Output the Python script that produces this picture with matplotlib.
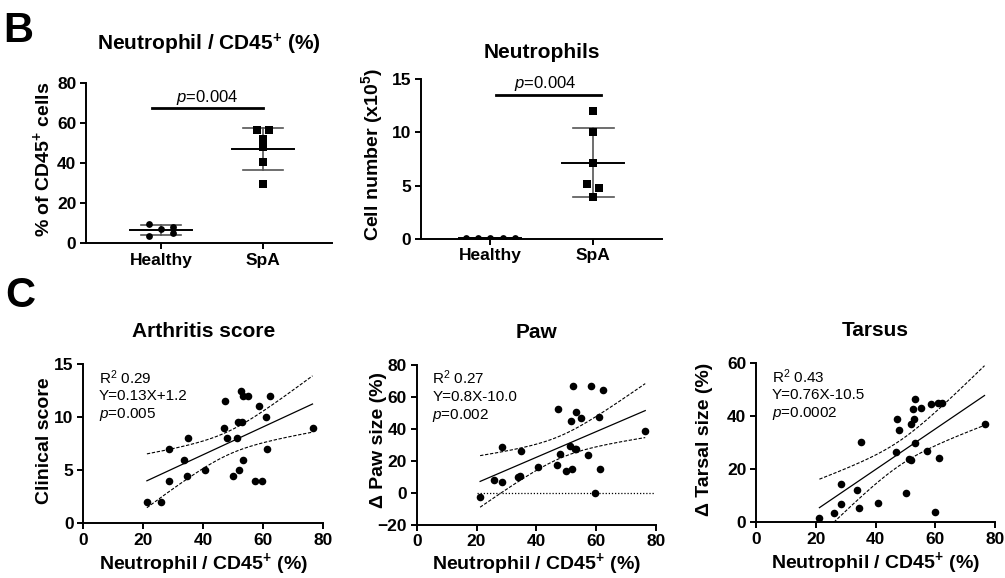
import numpy as np
import matplotlib
matplotlib.use('Agg')
import matplotlib.pyplot as plt

plt.rcParams['font.family'] = ['Liberation Sans', 'DejaVu Sans']
plt.rcParams['mathtext.fontset'] = 'custom'
plt.rcParams['mathtext.rm'] = 'Liberation Sans'
plt.rcParams['mathtext.it'] = 'Liberation Sans:italic'
plt.rcParams['mathtext.bf'] = 'Liberation Sans:bold'

# ---- panel B data ----
groups = ['Healthy', 'SpA']
# neutrophil / CD45+ (%)
pct_healthy = [9.3, 7.2, 8.2, 3.5, 4.8]
pct_spa = [56.3, 56.3, 51.8, 47.8, 40.3, 29.5]
# neutrophil number (x10^5)
num_healthy = [0.08, 0.10, 0.09, 0.11, 0.10]
num_spa = [12.0, 10.0, 7.15, 5.15, 4.77, 3.92]
p_b = ['0.004', '0.004']

# horizontal scatter of the dots (layout only)
jit_pct_h = [-0.12, 0, 0.12, -0.12, 0.12]
jit_pct_s = [-0.06, 0.06, 0, 0, 0, 0]
jit_num_h = [-0.24, -0.12, 0, 0.12, 0.24]
jit_num_s = [0, 0, 0, -0.065, 0.06, 0]

# ---- panel C data (one value per mouse) ----
neut_pct = [21.2, 26.0, 28.4, 28.4, 33.7, 34.6, 35.0, 40.7, 46.8, 47.2, 47.8, 50.0, 51.2, 51.7,
            51.9, 52.4, 52.8, 53.1, 53.2, 55.0, 57.1, 58.4, 59.7, 60.9, 61.3, 62.2, 76.4]
clin_score = [2, 2, 4, 7, 6, 4.5, 8, 5, 9, 11.5, 8, 4.5, 8, 9.5,
              5, 12.5, 9.5, 12, 6, 12, 4, 11, 4, 10, 7, 12, 9]
paw_size = [-2.5, 7.9, 6.7, 28.3, 10, 10.4, 26.3, 16.3, 17.1, 52.5, 24.4, 13.3, 29.2, 44.6,
            14.6, 66.5, 27.1, 50.6, 27.1, 46.7, 23.3, 66.5, 0, 47.5, 14.8, 64, 38.3]
tarsal_size = [1.8, 3.6, 7, 14.3, 12, 5.3, 30.2, 7.2, 26.5, 38.9, 34.7, 11.2, 23.7, 36.9,
               23.4, 42.7, 38.8, 46.4, 29.7, 43.1, 26.9, 44.6, 3.8, 44.8, 24.1, 44.8, 37.1]
stats_txt = [('0.29', 'Y=0.13X+1.2', '0.005'),
             ('0.27', 'Y=0.8X-10.0', '0.002'),
             ('0.43', 'Y=0.76X-10.5', '0.0002')]

W, H = 1005, 578
fig = plt.figure(figsize=(W / 100, H / 100), dpi=100)


def px_axes(l, r, b, t):
    # axes from pixel box of the reference
    return fig.add_axes([l / W, 1 - b / H, (r - l) / W, (b - t) / H])


def style(ax):
    for s in ['top', 'right']:
        ax.spines[s].set_visible(False)
    for s in ['left', 'bottom']:
        ax.spines[s].set_linewidth(1.4)
    ax.tick_params(width=1.4, length=4, labelsize=12.5, pad=3)
    for lab in ax.get_xticklabels() + ax.get_yticklabels():
        lab.set_fontweight('bold')


def dot_panel(ax, h, s, jh, js, title, tpad):
    ax.scatter(np.array(jh), h, marker='o', s=24, color='k', linewidths=0, zorder=3)
    ax.scatter(1 + np.array(js), s, marker='s', s=32, color='k', linewidths=0, zorder=3)
    for i, vals in enumerate([h, s]):
        m = np.mean(vals)
        sd = np.std(vals, ddof=1)
        ax.plot([i, i], [m - sd, m + sd], color='#555555', lw=1.2, zorder=2)
        ax.plot([i - 0.2, i + 0.2], [m + sd] * 2, color='#555555', lw=1.2, zorder=2)
        ax.plot([i - 0.2, i + 0.2], [m - sd] * 2, color='#555555', lw=1.2, zorder=2)
        ax.plot([i - 0.3, i + 0.3], [m, m], color='k', lw=1.4, zorder=4)
    ax.set_xticks([0, 1])
    ax.set_xticklabels(groups, fontsize=14, fontweight='bold')
    ax.set_title(title, fontsize=15, fontweight='bold', pad=tpad)


# ---- B: neutrophil / CD45+ ----
ax1 = px_axes(86, 332, 243, 83)
dot_panel(ax1, pct_healthy, pct_spa, jit_pct_h, jit_pct_s,
          r'Neutrophil / CD45$^{\mathbf{+}}$ (%)', 23.8)
ax1.set_xlim(-0.735, 1.676)
ax1.set_ylim(0, 80)
ax1.set_yticks([0, 20, 40, 60, 80])
ax1.plot([-0.09, 1.0], [67.3, 67.3], color='k', lw=2)
ax1.text(0.45, 70.6, '$p$=' + p_b[0], ha='center', va='baseline', fontsize=12)
ax1.set_ylabel(r'% of CD45$^{\mathbf{+}}$ cells', fontsize=14, fontweight='bold')
ax1.yaxis.set_label_coords(-0.133, 0.525)
style(ax1)

# ---- B: neutrophil numbers ----
ax2 = px_axes(421, 662, 238.7, 79.3)
dot_panel(ax2, num_healthy, num_spa, jit_num_h, jit_num_s, 'Neutrophils', 15)
ax2.set_xlim(-0.673, 1.667)
ax2.set_ylim(0, 15)
ax2.set_yticks([0, 5, 10, 15])
ax2.plot([0.055, 1.079], [13.53, 13.53], color='k', lw=2)
ax2.text(0.53, 14.16, '$p$=' + p_b[1], ha='center', va='baseline', fontsize=12)
ax2.set_ylabel(r'Cell number (x10$^{\mathbf{5}}$)', fontsize=14, fontweight='bold')
ax2.yaxis.set_label_coords(-0.149, 0.525)
style(ax2)


def fit_panel(ax, x, y, stats, title, ylabel, xlab_y):
    x = np.array(x, dtype=float)
    y = np.array(y, dtype=float)
    b, a = np.polyfit(x, y, 1)
    n = len(x)
    s = np.sqrt(np.sum((y - (a + b * x)) ** 2) / (n - 2))
    sxx = np.sum((x - x.mean()) ** 2)
    xs = np.linspace(x.min(), x.max(), 200)
    yh = a + b * xs
    ci = 2.06 * s * np.sqrt(1 / n + (xs - x.mean()) ** 2 / sxx)
    ax.plot(xs, yh, color='k', lw=0.9)
    ax.plot(xs, yh + ci, color='k', lw=0.8, dashes=(3, 1.5))
    ax.plot(xs, yh - ci, color='k', lw=0.8, dashes=(3, 1.5))
    ax.scatter(x, y, s=30, color='k', linewidths=0, zorder=3, clip_on=False)
    ax.text(0.065, 0.975, 'R$^2$ ' + stats[0] + '\n' + stats[1] + '\n$p$=' + stats[2],
            transform=ax.transAxes, ha='left', va='top', fontsize=11, linespacing=1.23)
    ax.set_xlim(0, 80)
    ax.set_xticks([0, 20, 40, 60, 80])
    ax.set_title(title, fontsize=15, fontweight='bold', pad=19.4)
    ax.set_xlabel(r'Neutrophil / CD45$^{\mathbf{+}}$ (%)', fontsize=14, fontweight='bold')
    ax.xaxis.set_label_coords(0.5, xlab_y)
    ax.set_ylabel(ylabel, fontsize=14, fontweight='bold')


ax3 = px_axes(83.3, 323.3, 523.3, 364)
fit_panel(ax3, neut_pct, clin_score, stats_txt[0], 'Arthritis score', 'Clinical score', -0.175)
ax3.set_ylim(0, 15)
ax3.set_yticks([0, 5, 10, 15])
ax3.yaxis.set_label_coords(-0.125, 0.52)
style(ax3)

ax4 = px_axes(416.7, 656, 524.7, 364.7)
fit_panel(ax4, neut_pct, paw_size, stats_txt[1], 'Paw', '\u0394 Paw size (%)', -0.165)
ax4.axhline(0, xmin=20 / 80, xmax=79.7 / 80, color='k', lw=0.9, ls=(0, (1, 1.5)))
ax4.set_ylim(-20, 80)
ax4.set_yticks([-20, 0, 20, 40, 60, 80])
ax4.yaxis.set_label_coords(-0.125, 0.53)
style(ax4)

ax5 = px_axes(756, 995.3, 522.3, 363)
fit_panel(ax5, neut_pct, tarsal_size, stats_txt[2], 'Tarsus', '\u0394 Tarsal size (%)', -0.175)
ax5.set_ylim(0, 60)
ax5.set_yticks([0, 20, 40, 60])
ax5.yaxis.set_label_coords(-0.178, 0.52)
style(ax5)

fig.text(0.003, 1 - 42 / H, 'B', fontsize=30, fontweight='bold', va='baseline')
fig.text(0.005, 1 - 307 / H, 'C', fontsize=30, fontweight='bold', va='baseline')

fig.savefig('out.png', dpi=100)
